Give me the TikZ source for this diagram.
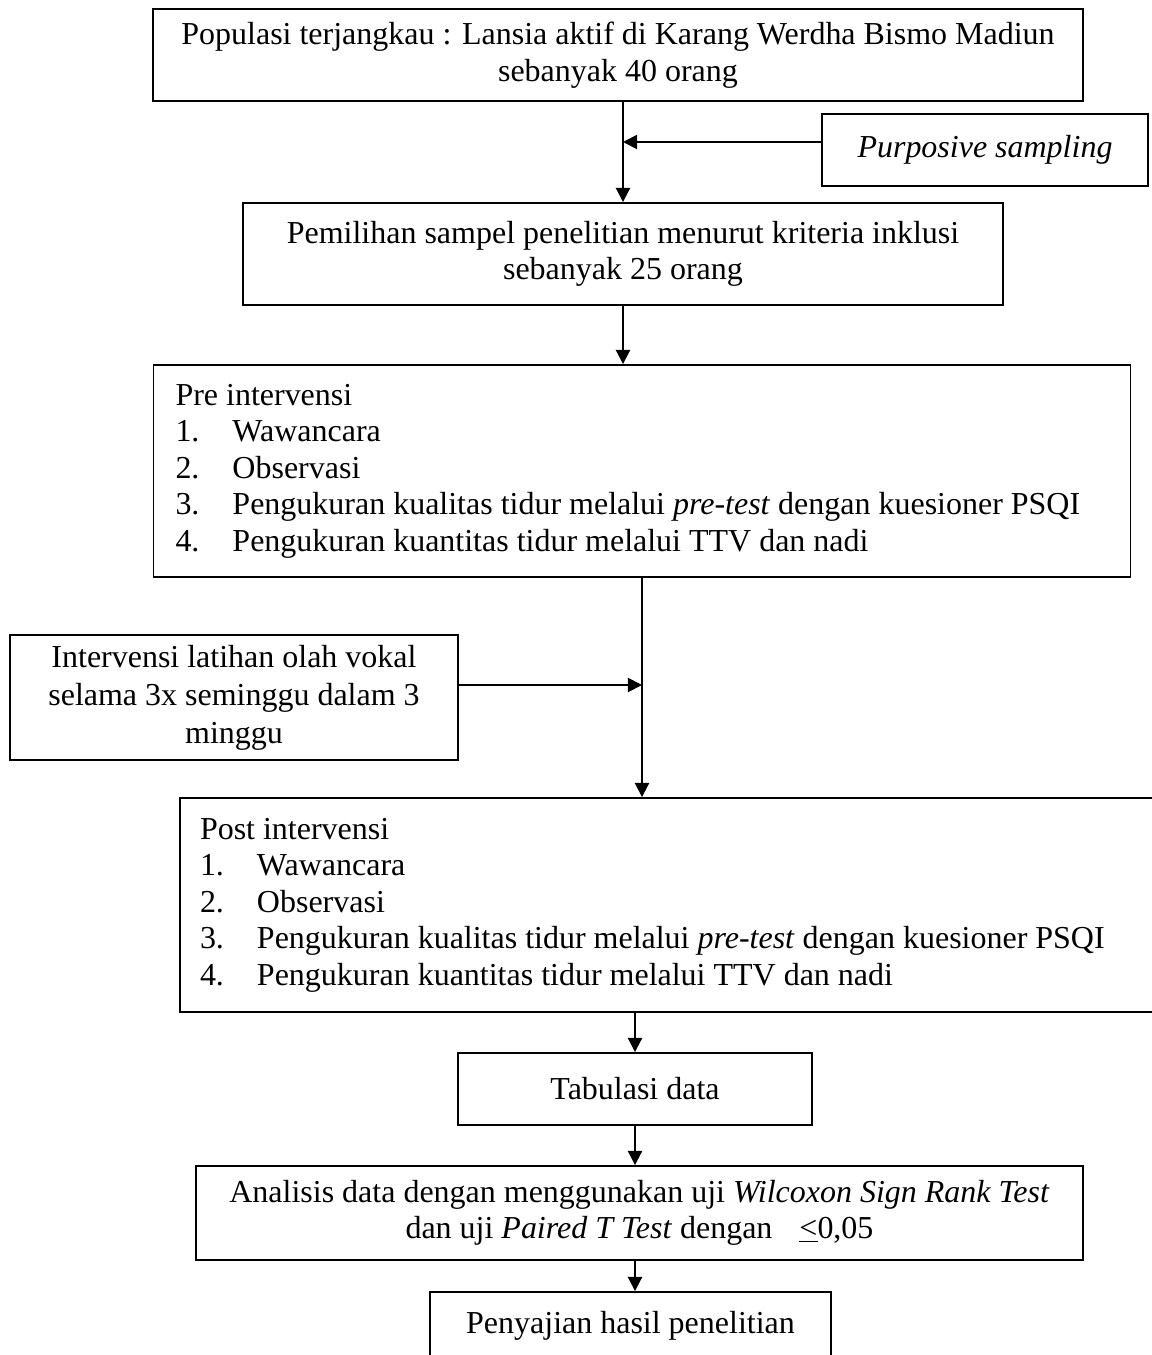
\documentclass[tikz,border=0pt]{standalone}
\usepackage{fontspec}
\setmainfont{Liberation Serif}
\usetikzlibrary{arrows.meta}

% Nomor butir daftar dengan jarak tetap
\newcommand{\butir}[1]{\makebox[1.14cm][l]{#1}}

\begin{document}
\begin{tikzpicture}[
   font=\fontsize{18.2pt}{20.8pt}\selectfont,
   kotak/.style={draw, line width=1.1pt, inner sep=0pt, align=flush center},
   daftar/.style={draw, line width=1.1pt, inner ysep=0pt, align=flush left},
   panah/.style={line width=1.1pt, -{Triangle[length=8pt,width=8pt]}}
]
   % Batas gambar
   \useasboundingbox (0,0) rectangle (23.02,-27.10);

   % Kotak populasi dan sampel
   \node[kotak, minimum width=18.6cm, minimum height=1.84cm] (populasi) at (12.36,-1.10)
      {Populasi terjangkau : Lansia aktif di Karang Werdha Bismo Madiun\\ sebanyak 40 orang};
   \node[kotak, minimum width=6.52cm, minimum height=1.44cm] (purposive) at (19.70,-3.00)
      {\textit{Purposive sampling}};
   \node[kotak, minimum width=15.2cm, minimum height=2.04cm] (pemilihan) at (12.46,-5.08)
      {Pemilihan sampel penelitian menurut kriteria inklusi\\ sebanyak 25 orang};

   % Kotak pre intervensi
   \node[daftar, inner xsep=0.44cm, text width=18.66cm, minimum height=4.24cm] (pre) at (12.84,-9.42)
      {Pre intervensi\\
       \butir{1.}Wawancara\\
       \butir{2.}Observasi\\
       \butir{3.}Pengukuran kualitas tidur melalui \textit{pre-test} dengan kuesioner PSQI\\
       \butir{4.}Pengukuran kuantitas tidur melalui TTV dan nadi};

   % Kotak intervensi
   \node[kotak, minimum width=8.96cm, minimum height=2.5cm, font=\fontsize{18.2pt}{21.6pt}\selectfont] (intervensi) at (4.68,-13.95)
      {Intervensi latihan olah vokal\\ selama 3x seminggu dalam 3\\ minggu};

   % Kotak post intervensi
   \node[daftar, inner xsep=0.40cm, text width=18.9cm, minimum height=4.28cm] (post) at (13.45,-18.10)
      {Post intervensi\\
       \butir{1.}Wawancara\\
       \butir{2.}Observasi\\
       \butir{3.}Pengukuran kualitas tidur melalui \textit{pre-test} dengan kuesioner PSQI\\
       \butir{4.}Pengukuran kuantitas tidur melalui TTV dan nadi};

   % Kotak pengolahan data
   \node[kotak, minimum width=7.08cm, minimum height=1.44cm] (tabulasi) at (12.70,-21.78)
      {Tabulasi data};
   \node[kotak, minimum width=17.74cm, minimum height=1.88cm] (analisis) at (12.79,-24.26)
      {Analisis data dengan menggunakan uji \textit{Wilcoxon Sign Rank Test}\\
       dan uji \textit{Paired T Test} dengan\hspace{0.54cm}\underline{<}0,05};
   \node[kotak, minimum width=8.02cm, minimum height=1.36cm] (penyajian) at (12.61,-26.52)
      {Penyajian hasil penelitian};

   % Titik pertemuan panah samping
   \coordinate (tusuk1) at (12.46,-2.84);
   \coordinate (tusuk2) at (12.84,-13.70);

   % Panah alur
   \draw[panah] (pemilihan.north |- populasi.south) -- (pemilihan.north);
   \draw[panah] (purposive.west |- tusuk1) -- (tusuk1);
   \draw[panah] (pemilihan.south) -- (pemilihan.south |- pre.north);
   \draw[panah] (pre.south) -- (pre.south |- post.north);
   \draw[panah] (intervensi.east |- tusuk2) -- (tusuk2);
   \draw[panah] (tabulasi.north |- post.south) -- (tabulasi.north);
   \draw[panah] (tabulasi.south) -- (tabulasi.south |- analisis.north);
   \draw[panah] (tabulasi.south |- analisis.south) -- (tabulasi.south |- penyajian.north);
\end{tikzpicture}
\end{document}
